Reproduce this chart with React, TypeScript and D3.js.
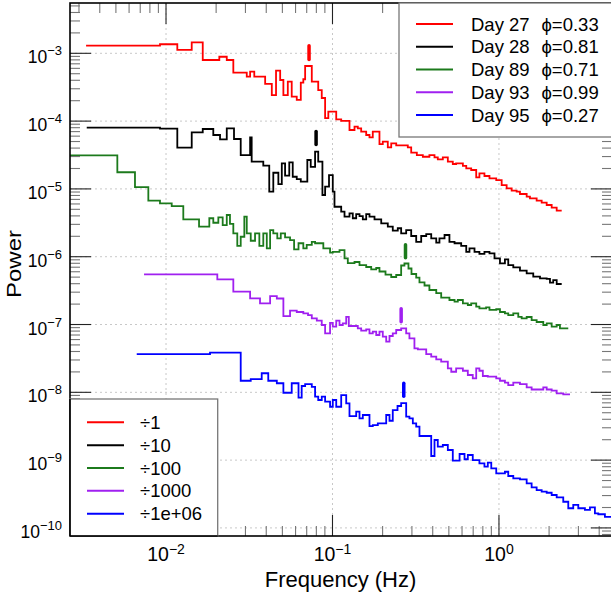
import React from "react";
import * as d3 from "d3";

const W = 611;
const H = 600;
const plot = { left: 70, right: 612, top: 3, bottom: 536 };

const dayLabels = ["Day 27", "Day 28", "Day 89", "Day 93", "Day 95"];
const phaseLabels = ["ϕ=0.33", "ϕ=0.81", "ϕ=0.71", "ϕ=0.99", "ϕ=0.27"];
const scaleLabels = ["÷1", "÷10", "÷100", "÷1000", "÷1e+06"];
const scaleFactors = [1, 10, 100, 1000, 1e6];
const colors = ["#ff0000", "#000000", "#1c7a1c", "#a020f0", "#0000ff"];

// QPO marks: frequency (Hz) and bar extent in raw power
const qpoFreq = [0.0723, 0.0797, 0.2745, 0.2585, 0.268];
const qpoLow = [7.7e-4, 4.29e-4, 9.16e-5, 1.04e-4, 8.33e-3];
const qpoHigh = [1.36e-3, 7.39e-4, 1.58e-4, 1.79e-4, 1.43e-2];

// bin edges (Hz) and raw power per bin, before the ÷ scaling
const day27Edges = [
  0.00331, 0.0092, 0.01169, 0.01427, 0.01662, 0.0209, 0.02317, 0.02537, 0.03055, 0.032,
  0.0339, 0.0394, 0.0432, 0.0458, 0.0485, 0.0507, 0.0539, 0.0569, 0.061, 0.0645, 0.0668,
  0.0685, 0.0751, 0.0821, 0.0862, 0.0903, 0.0944, 0.1053, 0.1128, 0.1265, 0.1356, 0.1419,
  0.1487, 0.1594, 0.1668, 0.1746, 0.1915, 0.2005, 0.2149, 0.2253, 0.2414, 0.2834, 0.297,
  0.3211, 0.3489, 0.382, 0.41, 0.429, 0.46, 0.493, 0.528, 0.553, 0.607, 0.636, 0.681, 0.73,
  0.763, 0.818, 0.877, 0.963, 1.038, 1.112, 1.192, 1.277, 1.337, 1.467, 1.535, 1.684, 1.805,
  1.935, 2.073, 2.222, 2.381,
];
const day27Power = [
  1.3e-3, 1.36e-3, 1.12e-3, 1.45e-3, 7.97e-4, 8.9e-4, 7.97e-4, 5.18e-4, 4.52e-4, 5.35e-4,
  4.52e-4, 3.53e-4, 2.42e-4, 5.54e-4, 4.04e-4, 2.42e-4, 3.81e-4, 2.29e-4, 2.05e-4, 3.69e-4,
  4.14e-4, 6.5e-4, 3.81e-4, 2.87e-4, 2.19e-4, 1.11e-4, 1.38e-4, 1.06e-4, 1.01e-4, 7.39e-5,
  8.27e-5, 7.83e-5, 6.98e-5, 6.24e-5, 5.77e-5, 6.98e-5, 4.59e-5, 4.97e-5, 4.11e-5, 4.7e-5,
  4.4e-5, 4.11e-5, 3.42e-5, 3.16e-5, 2.98e-5, 3.16e-5, 2.92e-5, 2.73e-5, 2.92e-5, 2.52e-5,
  2.33e-5, 2.38e-5, 2.18e-5, 2.01e-5, 1.9e-5, 1.48e-5, 1.7e-5, 1.55e-5, 1.43e-5, 1.35e-5,
  1.14e-5, 1.02e-5, 9.41e-6, 9.09e-6, 8.41e-6, 7.67e-6, 7.27e-6, 6.7e-6, 6.26e-6, 5.79e-6,
  5.28e-6, 4.77e-6,
];

const day28Edges = [
  0.00334, 0.0092, 0.01169, 0.01427, 0.01662, 0.01923, 0.02111, 0.02317, 0.02561, 0.0281,
  0.032, 0.0327, 0.0384, 0.0417, 0.0441, 0.0473, 0.0496, 0.0519, 0.055, 0.0577, 0.061,
  0.0645, 0.0706, 0.074, 0.0786, 0.0821, 0.087, 0.0903, 0.0953, 0.1004, 0.1028, 0.1128,
  0.1181, 0.1265, 0.1324, 0.1388, 0.1453, 0.1521, 0.1594, 0.1668, 0.1788, 0.1962, 0.2149,
  0.2302, 0.2467, 0.2585, 0.2771, 0.297, 0.3183, 0.3411, 0.3656, 0.3918, 0.42, 0.439, 0.471,
  0.504, 0.541, 0.593, 0.636, 0.665, 0.713, 0.763, 0.818, 0.877, 0.94, 1.014, 1.086, 1.137,
  1.219, 1.337, 1.467, 1.607, 1.764, 1.935, 2.025, 2.118, 2.222, 2.381,
];
const day28Power = [
  7.99e-4, 7.73e-4, 4.05e-4, 6.84e-4, 7.65e-4, 6.24e-4, 5.39e-4, 7.83e-4, 5.45e-4, 3.16e-4,
  5.77e-4, 2.52e-4, 2.2e-4, 9.09e-5, 1.73e-4, 1.18e-4, 2.38e-4, 1.57e-4, 2.47e-4, 1.51e-4,
  1.39e-4, 1.28e-4, 2.67e-4, 2.12e-4, 3.54e-4, 2.52e-4, 8.13e-5, 1.08e-4, 1.6e-4, 9.09e-5,
  5.46e-5, 4.61e-5, 3.89e-5, 4.37e-5, 3.69e-5, 4.26e-5, 3.98e-5, 3.56e-5, 4.26e-5, 3.89e-5,
  3.56e-5, 3.11e-5, 2.77e-5, 2.42e-5, 2.63e-5, 2.21e-5, 2.47e-5, 2.02e-5, 1.66e-5, 2.02e-5,
  2.16e-5, 1.87e-5, 1.61e-5, 1.87e-5, 2.09e-5, 1.66e-5, 1.58e-5, 1.44e-5, 1.18e-5, 1.33e-5,
  1.18e-5, 1.1e-5, 1.18e-5, 1.12e-5, 9.47e-6, 7.99e-6, 9.16e-6, 7.54e-6, 6.98e-6, 6.22e-6,
  5.69e-6, 5.07e-6, 4.8e-6, 4.72e-6, 4.14e-6, 4.53e-6, 3.96e-6,
];

const day89Edges = [
  0.0024, 0.0051, 0.00651, 0.00783, 0.0092, 0.01082, 0.0127, 0.01579, 0.0182, 0.01923,
  0.02062, 0.0219, 0.02317, 0.02422, 0.02537, 0.0268, 0.0281, 0.02954, 0.03055, 0.03228,
  0.03426, 0.03636, 0.0384, 0.0403, 0.0422, 0.0441, 0.0466, 0.0489, 0.0519, 0.0556, 0.0588,
  0.0625, 0.0668, 0.07, 0.0751, 0.0786, 0.0881, 0.0967, 0.1004, 0.1102, 0.1181, 0.1236,
  0.1356, 0.1453, 0.1594, 0.1708, 0.1831, 0.1915, 0.2082, 0.2253, 0.2414, 0.2585, 0.2705,
  0.286, 0.2982, 0.3183, 0.333, 0.3571, 0.382, 0.42, 0.4497, 0.504, 0.541, 0.566, 0.607,
  0.65, 0.681, 0.73, 0.763, 0.837, 0.877, 0.963, 1.014, 1.086, 1.137, 1.219, 1.306, 1.369,
  1.467, 1.571, 1.684, 1.846, 1.935, 2.073, 2.222, 2.324, 2.608,
];
const day89Power = [
  3.13e-3, 1.76e-3, 1.06e-3, 6.7e-4, 6.13e-4, 5.59e-4, 3.56e-4, 2.77e-4, 3.69e-4, 3.17e-4,
  3.81e-4, 2.93e-4, 4.12e-4, 3.04e-4, 2.21e-4, 1.44e-4, 1.97e-4, 3.89e-4, 2.21e-4, 1.72e-4,
  2.21e-4, 1.44e-4, 2.21e-4, 1.33e-4, 2.47e-4, 2.21e-4, 1.87e-4, 2.21e-4, 1.93e-4, 1.76e-4,
  1.28e-4, 1.58e-4, 1.33e-4, 1.49e-4, 1.66e-4, 1.58e-4, 1.33e-4, 1.15e-4, 1.18e-4, 1.25e-4,
  9.47e-5, 8.07e-5, 8.35e-5, 7.54e-5, 7.05e-5, 6.52e-5, 6.81e-5, 6.05e-5, 5.46e-5, 5.02e-5,
  5.37e-5, 7.42e-5, 7.94e-5, 6.7e-5, 5.56e-5, 4.93e-5, 4.17e-5, 3.76e-5, 3.23e-5, 2.91e-5,
  2.5e-5, 2.3e-5, 2.17e-5, 2.3e-5, 2.05e-5, 1.94e-5, 2.05e-5, 1.83e-5, 1.73e-5, 1.79e-5,
  1.64e-5, 1.68e-5, 1.53e-5, 1.46e-5, 1.38e-5, 1.46e-5, 1.3e-5, 1.23e-5, 1.29e-5, 1.16e-5,
  1.09e-5, 9.83e-6, 1.04e-5, 9.28e-6, 9.83e-6, 8.79e-6,
];

const day93Edges = [
  0.00738, 0.02033, 0.02537, 0.032, 0.0367, 0.0422, 0.0463, 0.0507, 0.0556, 0.061, 0.0668,
  0.0713, 0.0751, 0.0805, 0.0862, 0.0903, 0.0967, 0.1004, 0.1053, 0.1102, 0.1153, 0.1209,
  0.1253, 0.1419, 0.1487, 0.1594, 0.1668, 0.1746, 0.1831, 0.1915, 0.2005, 0.2102, 0.22,
  0.2302, 0.2414, 0.2585, 0.2771, 0.2898, 0.3106, 0.3256, 0.3656, 0.3918, 0.42, 0.4497,
  0.493, 0.517, 0.553, 0.607, 0.65, 0.696, 0.73, 0.763, 0.8, 0.857, 0.963, 1.014, 1.086,
  1.137, 1.219, 1.337, 1.467, 1.571, 1.846, 1.935, 2.073, 2.222, 2.433, 2.67,
];
const day93Power = [
  5.5e-4, 4.64e-4, 3.05e-4, 2.43e-4, 2.05e-4, 2.63e-4, 2.42e-4, 1.33e-4, 1.6e-4, 1.53e-4,
  1.46e-4, 1.38e-4, 1.23e-4, 1.14e-4, 9.83e-5, 7.42e-5, 1.06e-4, 9.28e-5, 1.14e-4, 9.83e-5,
  1.04e-4, 1.3e-4, 9.5e-5, 8.79e-5, 8.1e-5, 8.5e-5, 7.42e-5, 7.83e-5, 7.0e-5, 7.83e-5,
  6.61e-5, 5.58e-5, 6.77e-5, 7.42e-5, 8.3e-5, 8.79e-5, 7.42e-5, 6.26e-5, 4.46e-5, 4.31e-5,
  3.67e-5, 3.35e-5, 3.07e-5, 2.83e-5, 2.26e-5, 2.01e-5, 2.26e-5, 2.08e-5, 1.8e-5, 1.61e-5,
  2.26e-5, 2.08e-5, 1.74e-5, 1.7e-5, 1.61e-5, 1.48e-5, 1.39e-5, 1.28e-5, 1.39e-5, 1.32e-5,
  1.18e-5, 1.1e-5, 1.18e-5, 1.1e-5, 1.06e-5, 9.67e-6, 9.34e-6,
];

const day95Edges = [
  0.00667, 0.01838, 0.0281, 0.03228, 0.03757, 0.04113, 0.0463, 0.0507, 0.0569, 0.0625,
  0.0653, 0.0685, 0.0751, 0.0786, 0.0821, 0.0862, 0.0903, 0.0967, 0.1004, 0.1053, 0.1128,
  0.1209, 0.1265, 0.1388, 0.1453, 0.1521, 0.1668, 0.1746, 0.1872, 0.2102, 0.22, 0.2302,
  0.2458, 0.2585, 0.2771, 0.2898, 0.3038, 0.3183, 0.333, 0.3918, 0.41, 0.429, 0.46, 0.493,
  0.528, 0.58, 0.621, 0.65, 0.696, 0.763, 0.818, 0.857, 0.899, 0.963, 1.086, 1.137, 1.219,
  1.337, 1.467, 1.571, 1.684, 1.805, 1.935, 2.073, 2.222, 2.433, 2.608, 2.794, 2.995, 3.283,
  3.52, 3.77, 3.95, 4.33, 4.98,
];
const day95Power = [
  3.67e-2, 3.84e-2, 1.48e-2, 1.57e-2, 1.91e-2, 1.48e-2, 1.36e-2, 9.86e-3, 1.36e-2, 8.33e-3,
  1.24e-2, 1.32e-2, 1.2e-2, 8.61e-3, 7.7e-3, 8.61e-3, 7.27e-3, 6.13e-3, 7.7e-3, 6.13e-3,
  9.12e-3, 6.88e-3, 4.47e-3, 5.18e-3, 4.14e-3, 4.63e-3, 3.18e-3, 3.29e-3, 3.49e-3, 4.63e-3,
  3.81e-3, 5.48e-3, 6.28e-3, 6.95e-3, 4.37e-3, 4.14e-3, 3.49e-3, 3.11e-3, 2.27e-3, 1.15e-3,
  1.98e-3, 1.58e-3, 1.67e-3, 1.41e-3, 9.8e-4, 1.23e-3, 1.03e-3, 1.19e-3, 1.0e-3, 8.97e-4,
  7.99e-4, 9.16e-4, 7.57e-4, 6.39e-4, 6.74e-4, 5.83e-4, 5.39e-4, 5.21e-4, 4.55e-4, 3.97e-4,
  3.62e-4, 3.42e-4, 3.3e-4, 3.06e-4, 2.83e-4, 2.43e-4, 1.95e-4, 2.18e-4, 1.95e-4, 1.84e-4,
  2.01e-4, 1.64e-4, 1.59e-4, 1.46e-4,
];

const seriesEdges = [day27Edges, day28Edges, day89Edges, day93Edges, day95Edges];
const seriesPower = [day27Power, day28Power, day89Power, day93Power, day95Power];

const FONT = "'Liberation Sans', Arial, Helvetica, sans-serif";

const x = d3.scaleLog().domain([0.00265, 4.775]).range([plot.left, plot.right]);
const y = d3.scaleLog().domain([7.6e-11, 5.52e-3]).range([plot.bottom, plot.top]);

const stepLine = d3
  .line<[number, number]>()
  .x((d) => x(d[0]))
  .y((d) => y(d[1]))
  .curve(d3.curveStepAfter);

function stepPoints(edges: number[], power: number[], scale: number) {
  const n = Math.min(power.length, edges.length - 1);
  const pts: [number, number][] = [];
  for (let i = 0; i < n; i++) pts.push([edges[i], power[i] / scale]);
  pts.push([edges[n], power[n - 1] / scale]);
  return pts;
}

function logTicks(lo: number, hi: number, d0: number, d1: number) {
  const out: { v: number; major: boolean }[] = [];
  for (let d = d0; d <= d1; d++) {
    for (let m = 1; m <= 9; m++) {
      const v = m * Math.pow(10, d);
      if (v >= lo && v <= hi) out.push({ v, major: m === 1 });
    }
  }
  return out;
}

const xTicks = logTicks(0.00265, 4.775, -3, 0);
const yTicks = logTicks(7.6e-11, 5.52e-3, -11, -3);
const xMajor = [0.01, 0.1, 1];
const yMajor = [1e-10, 1e-9, 1e-8, 1e-7, 1e-6, 1e-5, 1e-4, 1e-3];

const expo = (v: number) => {
  const e = Math.round(Math.log10(v));
  return e < 0 ? "\u2212" + Math.abs(e) : String(e);
};

export default function App() {
  const majorLen = 21;
  const minorLen = 10;
  return (
    <svg
      width={W}
      height={H}
      viewBox={`0 0 ${W} ${H}`}
      style={{ position: "absolute", left: 0, top: 0, background: "#fff" }}
      fontFamily={FONT}
    >
      <defs>
        <clipPath id="plotClip">
          <rect x={plot.left} y={plot.top} width={plot.right - plot.left} height={plot.bottom - plot.top} />
        </clipPath>
      </defs>
      <rect x={0} y={0} width={W} height={H} fill="#fff" />

      {/* grid */}
      <g stroke="#c8c8c8" strokeWidth={1} strokeDasharray="2,3">
        {xMajor.map((v) => (
          <line key={"gx" + v} x1={x(v)} x2={x(v)} y1={plot.top} y2={plot.bottom} />
        ))}
        {yMajor.map((v) => (
          <line key={"gy" + v} x1={plot.left} x2={plot.right} y1={y(v)} y2={y(v)} />
        ))}
      </g>

      {/* spectra */}
      <g clipPath="url(#plotClip)" fill="none" strokeWidth={1.8} strokeLinejoin="miter">
        {seriesEdges.map((edges, i) => (
          <path
            key={"s" + i}
            d={stepLine(stepPoints(edges, seriesPower[i], scaleFactors[i])) || ""}
            stroke={colors[i]}
          />
        ))}
      </g>

      {/* QPO marks */}
      <g strokeWidth={3.5} strokeLinecap="round">
        {qpoFreq.map((f, i) => (
          <line
            key={"q" + i}
            x1={x(f)}
            x2={x(f)}
            y1={y(qpoLow[i] / scaleFactors[i]) - 1.5}
            y2={y(qpoHigh[i] / scaleFactors[i]) + 1.5}
            stroke={colors[i]}
          />
        ))}
      </g>

      {/* ticks on all four sides */}
      <g strokeWidth={1.1}>
        {xTicks.map((t) => {
          const px = x(t.v);
          const len = t.major ? majorLen : minorLen;
          const c = t.major ? "#222" : "#777";
          return (
            <g key={"xt" + t.v} stroke={c}>
              <line x1={px} x2={px} y1={plot.bottom} y2={plot.bottom - len} />
              <line x1={px} x2={px} y1={plot.top} y2={plot.top + len} />
            </g>
          );
        })}
        {yTicks.map((t) => {
          const py = y(t.v);
          const len = t.major ? majorLen : minorLen;
          const c = t.major ? "#222" : "#777";
          return (
            <g key={"yt" + t.v} stroke={c}>
              <line x1={plot.left} x2={plot.left + len} y1={py} y2={py} />
              <line x1={plot.right} x2={plot.right - len} y1={py} y2={py} />
            </g>
          );
        })}
      </g>

      {/* frame */}
      <rect
        x={plot.left}
        y={plot.top}
        width={plot.right - plot.left}
        height={plot.bottom - plot.top}
        fill="none"
        stroke="#000"
        strokeWidth={1.6}
      />

      {/* legend: observations */}
      <g>
        <rect x={399} y={plot.top} width={plot.right - 399 + 2} height={134} fill="#fff" stroke="#777" strokeWidth={1.3} />
        {dayLabels.map((lab, i) => {
          const ly = 24 + i * 22.75;
          return (
            <g key={"l1" + i}>
              <line x1={416} x2={453} y1={ly} y2={ly} stroke={colors[i]} strokeWidth={2} />
              <text x={471} y={ly + 6.5} fontSize={18.5} fill="#000">
                {lab}
              </text>
              <text x={541.5} y={ly + 6.5} fontSize={18.5} fill="#000">
                {phaseLabels[i]}
              </text>
            </g>
          );
        })}
      </g>

      {/* legend: scaling */}
      <g>
        <rect x={plot.left} y={399} width={147.7} height={plot.bottom - 399} fill="#fff" stroke="#777" strokeWidth={1.3} />
        {scaleLabels.map((lab, i) => {
          const ly = 422.3 + i * 22.85;
          return (
            <g key={"l2" + i}>
              <line x1={87} x2={124} y1={ly} y2={ly} stroke={colors[i]} strokeWidth={2} />
              <text x={140} y={ly + 6.5} fontSize={18.5} fill="#000">
                {lab}
              </text>
            </g>
          );
        })}
        <line x1={plot.left} x2={plot.left} y1={399} y2={plot.bottom} stroke="#000" strokeWidth={1.6} />
        <line x1={plot.left} x2={217.7} y1={plot.bottom} y2={plot.bottom} stroke="#000" strokeWidth={1.6} />
      </g>

      {/* tick labels */}
      <g fill="#000">
        {yMajor.map((v) => (
          <text key={"yl" + v} x={62} y={y(v) + 10} fontSize={17.5} textAnchor="end">
            10
            <tspan dy={-8} fontSize={13}>
              {expo(v)}
            </tspan>
          </text>
        ))}
        {xMajor.map((v) => (
          <text key={"xl" + v} x={x(v)} y={561} fontSize={19.5} textAnchor="middle">
            10
            <tspan dy={-7.5} fontSize={14}>
              {expo(v)}
            </tspan>
          </text>
        ))}
      </g>

      {/* axis titles */}
      <text x={(plot.left + 611) / 2} y={587} fontSize={22} textAnchor="middle" fill="#000">
        Frequency (Hz)
      </text>
      <text
        transform="translate(21,264) rotate(-90)"
        fontSize={21}
        textAnchor="middle"
        textLength={68}
        lengthAdjust="spacingAndGlyphs"
        fill="#000"
      >
        Power
      </text>
    </svg>
  );
}
